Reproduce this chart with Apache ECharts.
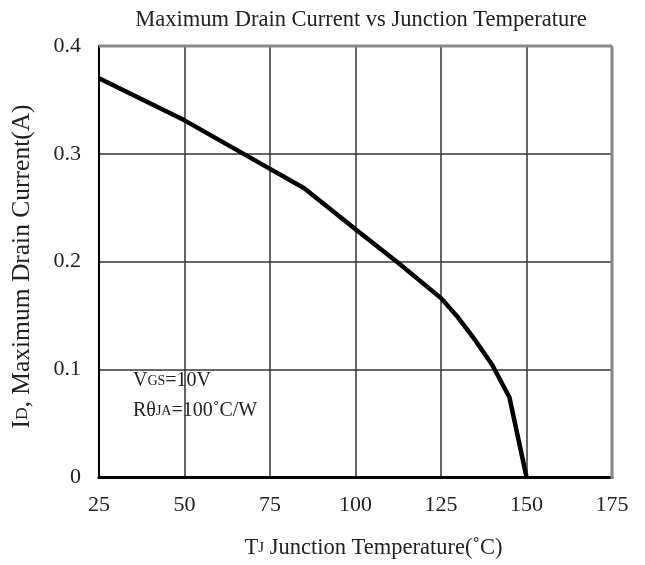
<!DOCTYPE html>
<html><head><meta charset="utf-8">
<script src="https://cdn.jsdelivr.net/npm/echarts@6/dist/echarts.min.js"></script>
<style>html,body{margin:0;padding:0;background:#fff}#c{width:645px;height:565px}</style>
</head><body><div id="c"></div>
<script>
const temps   = [25, 50, 75, 85, 100, 112, 125, 130, 135, 140, 145, 150];
const current = [0.37, 0.331, 0.286, 0.268, 0.23, 0.2, 0.166, 0.148, 0.127, 0.104, 0.074, 0];
const xTicks = [25, 50, 75, 100, 125, 150, 175];
const yTicks = [0, 0.1, 0.2, 0.3, 0.4];

const F = 'Liberation Serif, Times New Roman, serif';
const chart = echarts.init(document.getElementById('c'));
chart.setOption({
  animation: false,
  title: {
    text: 'Maximum Drain Current vs Junction Temperature',
    left: 356, top: 4, textAlign: 'center',
    textStyle: {fontFamily: F, fontSize: 22.5, fontWeight: 'normal', color: '#222'}
  },
  grid: {left: 99, right: 33, top: 46, bottom: 86},
  xAxis: {
    type: 'value', min: 25, max: 175, interval: 25,
    axisLine: {show: true, lineStyle: {color: '#000', width: 3}},
    axisTick: {show: false},
    axisLabel: {fontFamily: F, fontSize: 22, color: '#222', margin: 17},
    splitLine: {show: true, lineStyle: {color: '#333', width: 1.5}},
    name: '{s|T}{sub|J}{s| Junction Temperature(˚C)}',
    nameLocation: 'middle', nameGap: 60,
    nameTextStyle: {padding: [0, 0, 0, 36], rich: {
      s: {fontFamily: F, fontSize: 22.5, color: '#222'},
      sub: {fontFamily: F, fontSize: 15, color: '#222'}
    }}
  },
  yAxis: {
    type: 'value', min: 0, max: 0.4, interval: 0.1,
    axisLine: {show: true, lineStyle: {color: '#000', width: 2}},
    axisTick: {show: false},
    axisLabel: {fontFamily: F, fontSize: 22, color: '#222', margin: 18,
      formatter: v => (v === 0 ? '0' : v.toFixed(1))},
    splitLine: {show: true, lineStyle: {color: '#333', width: 1.5}},
    name: '{s|I}{sub|D}{s|, Maximum Drain Current(A)}',
    nameLocation: 'middle', nameGap: 64, nameRotate: 90,
    nameTextStyle: {padding: [0, 10, 0, 0], rich: {
      s: {fontFamily: F, fontSize: 25.5, color: '#222'},
      sub: {fontFamily: F, fontSize: 17.5, color: '#222'}
    }}
  },
  graphic: [
    {type: 'line', shape: {x1: 99, y1: 46, x2: 612, y2: 46}, style: {stroke: '#888', lineWidth: 3}, z: 10},
    {type: 'line', shape: {x1: 612, y1: 46, x2: 612, y2: 479}, style: {stroke: '#888', lineWidth: 3}, z: 10},
    {type: 'text', left: 133, top: 371, z: 10, style: {
      text: '{s|V}{sub|GS}{s|=10V}',
      rich: {s: {fontFamily: F, fontSize: 20, fill: '#222'}, sub: {fontFamily: F, fontSize: 14, fill: '#222'}}
    }},
    {type: 'text', left: 133, top: 401, z: 10, style: {
      text: '{s|Rθ}{sub|JA}{s|=100˚C/W}',
      rich: {s: {fontFamily: F, fontSize: 20, fill: '#222'}, sub: {fontFamily: F, fontSize: 14, fill: '#222'}}
    }}
  ],
  series: [{
    type: 'line',
    data: temps.map((t, i) => [t, current[i]]),
    symbol: 'none',
    lineStyle: {color: '#000', width: 4.5},
    z: 5
  }]
});
</script>
</body></html>
